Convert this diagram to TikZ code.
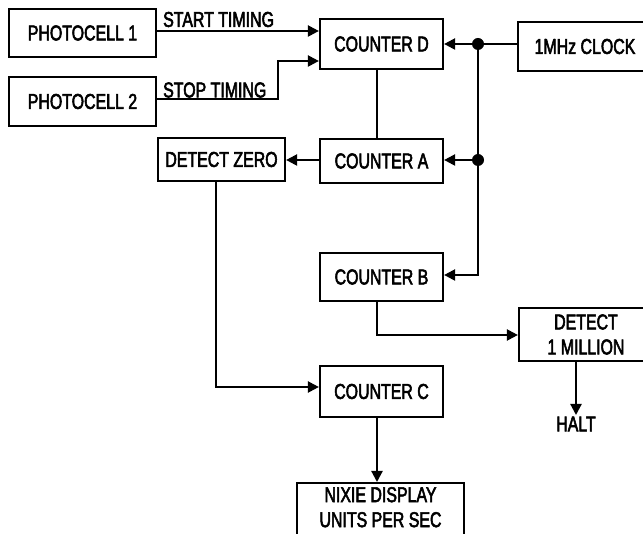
\documentclass[tikz,border=0pt]{standalone}
\usepackage{fontspec}
\setmainfont{Liberation Sans}[FakeStretch=0.74,FakeBold=2.5]
\usetikzlibrary{arrows.meta,calc}
\begin{document}
\begin{tikzpicture}[x=1pt,y=-1pt,
  blk/.style={draw,line width=2.2pt,inner sep=0pt,align=center,font=\fontsize{21.5}{25}\selectfont},
  lbl/.style={inner sep=0pt,font=\fontsize{21.5}{25}\selectfont},
  wire/.style={line width=2.2pt},
  arr/.style={wire,-{Triangle[length=11pt,width=11pt]}},
  dot/.style={circle,fill,inner sep=0pt,minimum size=12pt}]
\clip (0,0) rectangle (643,534);
\fill[white] (0,0) rectangle (643,534);
% blocks
\node[blk,minimum width=147pt,minimum height=48pt] (p1) at (82.5,33) {PHOTOCELL 1};
\node[blk,minimum width=147pt,minimum height=49pt] (p2) at (82.5,101.5) {PHOTOCELL 2};
\node[blk,minimum width=123pt,minimum height=50pt] (D) at (381.5,44) {COUNTER D};
\node[blk,minimum width=123pt,minimum height=44pt] (A) at (381.5,161) {COUNTER A};
\node[blk,minimum width=123pt,minimum height=48pt] (B) at (381.5,277) {COUNTER B};
\node[blk,minimum width=123pt,minimum height=51pt] (C) at (381.5,391.5) {COUNTER C};
\node[blk,minimum width=127pt,minimum height=43pt] (Z) at (221.5,159.5) {DETECT ZERO};
\node[blk,minimum width=134pt,minimum height=49pt] (clk) at (585,46.5) {1MHz CLOCK};
\node[blk,minimum width=134pt,minimum height=53pt] (M) at (586,334.5) {DETECT\\1 MILLION};
\node[blk,anchor=north,minimum width=167pt,inner ysep=4pt,text depth=14pt] (N) at (380.5,482) {NIXIE DISPLAY\\UNITS PER SEC};
\node[lbl] (halt) at (576,424) {HALT};
% labels
\node[lbl,anchor=west] (st) at (163,19.5) {START TIMING};
\node[lbl,anchor=west] (sp) at (163,90) {STOP TIMING};
% junctions
\node[dot] (j1) at (478,44) {};
\node[dot] (j2) at (478,160) {};
\coordinate (cx) at (377,0);
\coordinate (r1) at (0,31);
\coordinate (r2) at (0,99);
\coordinate (bend2) at (278,61);
\coordinate (rb) at (0,275);
\coordinate (zc) at (216,387);
\coordinate (bm) at (377,335);
\coordinate (ht) at (576,415);
% connectors
\draw[arr] (p1.east |- r1) -- (D.west |- r1);
\draw[arr] (p2.east |- r2) -- (bend2 |- r2) -- (bend2) -- (D.west |- bend2);
\draw[wire] (D.south -| cx) -- (A.north -| cx);
\draw[wire] (clk.west |- j1) -- (j1.center);
\draw[arr] (j1.center) -- (D.east |- j1);
\draw[arr] (j2.center) -- (A.east |- j2);
\draw[wire] (j1.center) -- (j2.center);
\draw[arr] (j2.center) -- (j2 |- rb) -- (B.east |- rb);
\draw[arr] (A.west |- j2) -- (Z.east |- j2);
\draw[arr] (Z.south -| zc) -- (zc) -- (C.west |- zc);
\draw[arr] (B.south -| bm) -- (bm) -- (M.west |- bm);
\draw[arr] (M.south -| ht) -- (ht);
\draw[arr] (C.south -| cx) -- (N.north -| cx);
\end{tikzpicture}
\end{document}
